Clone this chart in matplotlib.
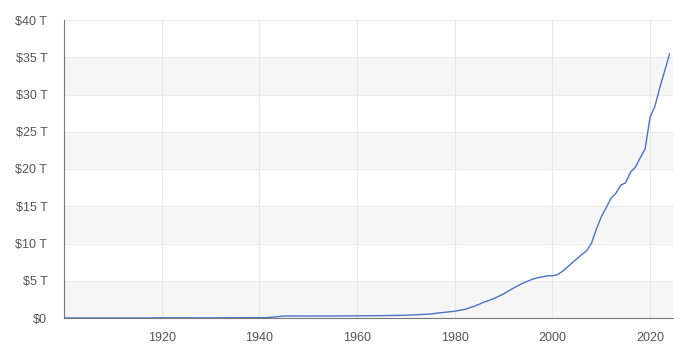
import matplotlib.pyplot as plt
from matplotlib.ticker import FuncFormatter

# US national debt, trillions of dollars
years = [1900, 1905, 1910, 1915, 1917, 1919, 1920, 1925, 1930, 1935, 1940, 1941,
         1942, 1943, 1944, 1945, 1946, 1950, 1955, 1960, 1965, 1970, 1975, 1977,
         1980, 1982, 1984, 1986, 1988, 1990, 1992, 1994, 1996, 1997, 1998, 1999,
         2000, 2001, 2002, 2003, 2004, 2005, 2006, 2007, 2008, 2009, 2010, 2011,
         2012, 2013, 2014, 2015, 2016, 2017, 2018, 2019, 2020, 2021, 2022, 2023,
         2024]
debt = [0.0021, 0.0023, 0.0027, 0.0032, 0.0030, 0.0255, 0.0243, 0.0206, 0.0162,
        0.0287, 0.043, 0.049, 0.072, 0.137, 0.201, 0.259, 0.269, 0.257, 0.273,
        0.286, 0.317, 0.371, 0.533, 0.699, 0.908, 1.142, 1.572, 2.125, 2.602,
        3.233, 4.001, 4.693, 5.225, 5.413, 5.526, 5.656, 5.674, 5.807, 6.228,
        6.783, 7.379, 7.933, 8.507, 9.008, 10.025, 11.910, 13.562, 14.790,
        16.066, 16.738, 17.824, 18.151, 19.573, 20.245, 21.516, 22.719, 26.945,
        28.429, 30.929, 33.167, 35.46]

y_ticks = [0, 5, 10, 15, 20, 25, 30, 35, 40]
x_ticks = [1920, 1940, 1960, 1980, 2000, 2020]

fig = plt.figure(figsize=(7, 3.47), dpi=100)
ax = fig.add_axes([64 / 700, 29 / 347, 609 / 700, 298 / 347])

# alternating horizontal bands
for lo in [0, 10, 20, 30]:
    ax.axhspan(lo, lo + 5, color='#f6f6f6', zorder=0, lw=0)
for t in y_ticks[1:]:
    ax.axhline(t, color='#ececec', lw=0.8, zorder=1)
for t in x_ticks:
    ax.axvline(t, color='#e6e6e6', lw=0.8, zorder=1)

ax.plot(years, debt, color='#4a72c8', lw=1.0, zorder=3)

ax.set_xlim(1900, 2024.7)
ax.set_ylim(0, 40)
ax.set_yticks(y_ticks)
ax.set_xticks(x_ticks)
ax.yaxis.set_major_formatter(FuncFormatter(lambda v, p: '$0' if v == 0 else '$%d T' % v))

for s in ['top', 'right']:
    ax.spines[s].set_visible(False)
ax.spines['left'].set_color('#777777')
ax.spines['bottom'].set_color('#777777')
ax.tick_params(length=0, labelsize=9, labelcolor='#555555', pad=12)
for lab in ax.get_xticklabels() + ax.get_yticklabels():
    lab.set_family('Liberation Sans')
ax.tick_params(axis='x', pad=10)

fig.savefig('out.png', dpi=100)
